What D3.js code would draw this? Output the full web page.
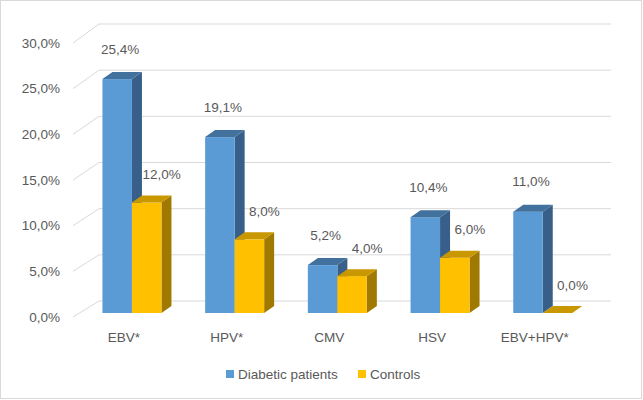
<!DOCTYPE html>
<html>
<head>
<meta charset="utf-8">
<script src="https://cdn.jsdelivr.net/npm/d3@7"></script>
<style>
  body { margin: 0; background: #fff; }
  text { font-family: "Liberation Sans", Arial, sans-serif; fill: #595959; font-size: 13.5px; }
</style>
</head>
<body>
<div id="chart"></div>
<script>
// --- data ---------------------------------------
var categories = ["EBV*", "HPV*", "CMV", "HSV", "EBV+HPV*"]
var diabetic = [25.4, 19.1, 5.2, 10.4, 11.0]
var controls = [12.0, 8.0, 4.0, 6.0, 0.0]
var yTicks = [0, 5, 10, 15, 20, 25, 30]
var seriesNames = ["Diabetic patients", "Controls"]

var width = 643,
    height = 400,
    depthX = 10,     // 3d offset of bar tops / sides
    depthY = -7

var colors = {
  "Diabetic patients": { front: "#5b9bd5", top: "#41719c", side: "#385f89" },
  "Controls":          { front: "#ffc000", top: "#c99700", side: "#a07a00" }
}

var fmt = v => d3.format(".1f")(v).replace(".", ",") + "%"

var svg = d3.select("#chart").append("svg")
  .attr("width", width)
  .attr("height", height)

// outer border
svg.append("rect")
  .attr("x", 0.5).attr("y", 0.5)
  .attr("width", width - 2).attr("height", height - 2)
  .attr("fill", "#fff")
  .attr("stroke", "#d9d9d9")

// --- scales ---------------------------------------
var yFront = d3.scaleLinear().domain([0, 30]).range([317, 43])   // side wall front edge
var yBack = d3.scaleLinear().domain([0, 30]).range([301, 24])    // back wall
var yBar = d3.scaleLinear().domain([0, 30]).range([313, 36.7])   // bar front faces

var wallFrontX = 73, wallBackX = 99, wallRightX = 611

var x = d3.scaleBand().domain(categories).range([80.6, 594.1])
var xs = d3.scaleBand().domain(seriesNames).range([-29.5, 29.5])

// --- gridlines (side wall + back wall) ---------------------------------------
svg.append("g")
  .selectAll("path")
  .data(yTicks)
  .enter().append("path")
    .attr("d", t => `M${wallFrontX},${yFront(t)}L${wallBackX},${yBack(t)}L${wallRightX},${yBack(t)}`)
    .attr("fill", "none")
    .attr("stroke", "#d9d9d9")
    .attr("stroke-width", 1)

// y tick labels
svg.append("g")
  .selectAll("text")
  .data(yTicks)
  .enter().append("text")
    .attr("x", 60)
    .attr("y", t => yFront(t) + 1)
    .attr("text-anchor", "end")
    .attr("dominant-baseline", "middle")
    .text(t => fmt(t))

// --- bars ---------------------------------------
var bars = []
categories.forEach((c, i) => {
  bars.push({ cat: c, series: "Diabetic patients", value: diabetic[i] })
  bars.push({ cat: c, series: "Controls", value: controls[i] })
})

var barW = xs.bandwidth()

svg.append("g")
  .selectAll("g")
  .data(bars)
  .enter().append("g")
  .each(function(d) {
    var g = d3.select(this),
        x0 = x(d.cat) + x.bandwidth() / 2 + xs(d.series),
        x1 = x0 + barW,
        y0 = yBar(0),
        y1 = yBar(d.value),
        col = colors[d.series]

    // side face
    g.append("path")
      .attr("d", `M${x1},${y1}L${x1 + depthX},${y1 + depthY}L${x1 + depthX},${y0 + depthY}L${x1},${y0}Z`)
      .attr("fill", col.side)
    // front face
    g.append("rect")
      .attr("x", x0).attr("y", y1)
      .attr("width", barW).attr("height", y0 - y1)
      .attr("fill", col.front)
    // top face
    g.append("path")
      .attr("d", `M${x0},${y1}L${x0 + depthX},${y1 + depthY}L${x1 + depthX},${y1 + depthY}L${x1},${y1}Z`)
      .attr("fill", col.top)
  })

// value labels
svg.append("g")
  .selectAll("text")
  .data(bars)
  .enter().append("text")
    .attr("x", d => x(d.cat) + x.bandwidth() / 2 + xs(d.series) + barW / 2 + (d.series === "Controls" ? 15 : 3))
    .attr("y", d => yBar(d.value) - (d.series === "Controls" ? 27 : 29))
    .attr("text-anchor", "middle")
    .attr("dominant-baseline", "middle")
    .text(d => fmt(d.value))

// category labels
svg.append("g")
  .selectAll("text")
  .data(categories)
  .enter().append("text")
    .attr("x", d => x(d) + x.bandwidth() / 2 - 8)
    .attr("y", 338)
    .attr("text-anchor", "middle")
    .attr("dominant-baseline", "middle")
    .text(d => d)

// --- legend ---------------------------------------
var legendX = [226, 358]
var legend = svg.append("g")
  .selectAll("g")
  .data(seriesNames)
  .enter().append("g")
    .attr("transform", (d, i) => `translate(${legendX[i]}, 374)`)

legend.append("rect")
  .attr("x", 0).attr("y", -4)
  .attr("width", 8).attr("height", 8)
  .attr("fill", d => colors[d].front)

legend.append("text")
  .attr("x", 12)
  .attr("y", 1)
  .attr("dominant-baseline", "middle")
  .text(d => d)
</script>
</body>
</html>
